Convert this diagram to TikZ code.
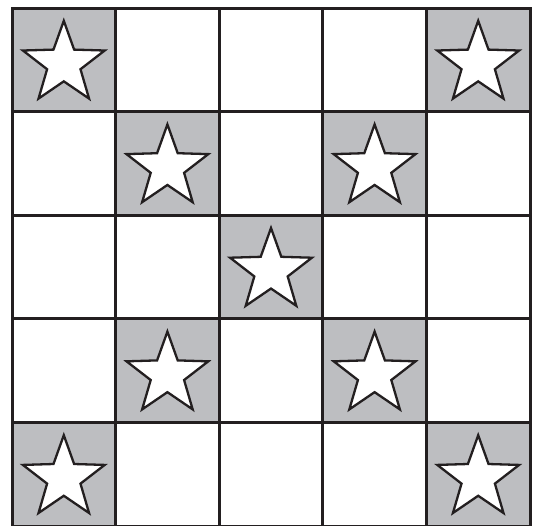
\documentclass[tikz,border=0pt]{standalone}
\usetikzlibrary{shapes.geometric}

\definecolor{cellgray}{RGB}{189,190,193}
\definecolor{inkblack}{RGB}{35,31,32}

\begin{document}
\begin{tikzpicture}[x=1pt, y=-1pt]
    \tikzset{
      cell/.style={draw=inkblack, line width=3pt, minimum size=103.6pt, inner sep=0pt, outer sep=0pt},
      starmark/.style={star, star points=5, star point ratio=2.45, draw=inkblack, fill=white, line width=2.3pt, minimum size=86pt, inner sep=0pt}
    }
    \useasboundingbox (0,0) rectangle (534,525);

    \foreach \r in {0,...,4}
      \foreach \c in {0,...,4} {
        \pgfmathtruncatemacro{\onDiag}{(\r==\c || \r+\c==4) ? 1 : 0}
        \ifnum\onDiag=1
          \node[cell, fill=cellgray] (cell-\r-\c) at ({12+103.6*(\c+0.5)}, {8+103.6*(\r+0.5)}) {};
          \node[starmark] (star-\r-\c) at ([yshift=-4pt]cell-\r-\c.center) {};
        \else
          \node[cell, fill=white] (cell-\r-\c) at ({12+103.6*(\c+0.5)}, {8+103.6*(\r+0.5)}) {};
        \fi
      }
  \end{tikzpicture}
\end{document}
